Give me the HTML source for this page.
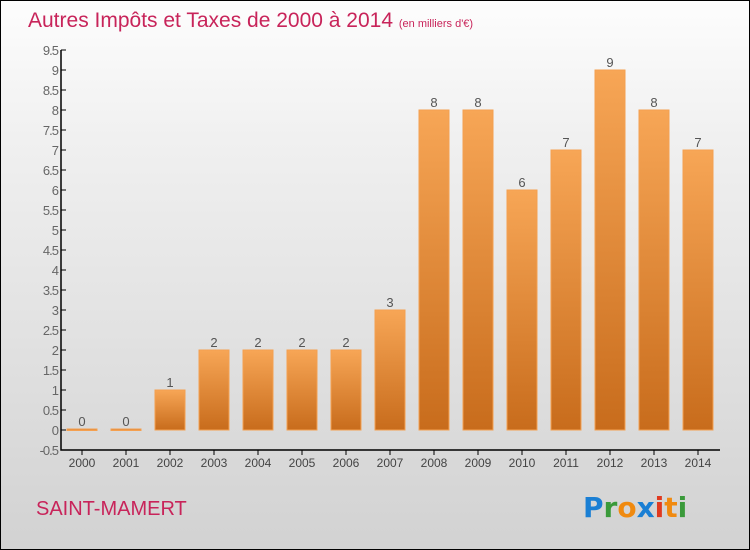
<!DOCTYPE html>
<html><head><meta charset="utf-8"><style>
body{margin:0}
#c{width:750px;height:550px;position:relative;box-sizing:border-box;border:1px solid #000;background:linear-gradient(#fdfdfd,#f0f0f0 25%,#d2d2d2);font-family:"Liberation Sans",sans-serif;overflow:hidden}
</style></head><body>
<div id="c">
<svg id="s" width="750" height="550" style="position:absolute;left:-1px;top:-1px">
<defs><linearGradient id="g" x1="0" y1="0" x2="0" y2="1"><stop offset="0" stop-color="#f7a656"/><stop offset="1" stop-color="#c86c1c"/></linearGradient></defs>
<text x="28" y="27" font-size="21" fill="#c8245a">Autres Impôts et Taxes de 2000 à 2014 <tspan font-size="11">(en milliers d'€)</tspan></text>
<text x="36" y="515" font-size="20" fill="#c8245a">SAINT-MAMERT</text>
<text x="583" y="517" font-size="28" font-weight="bold" font-family="'DejaVu Sans',sans-serif"><tspan fill="#1a7fd4">P</tspan><tspan fill="#3a9a3a">r</tspan><tspan fill="#f08a10">o</tspan><tspan fill="#1a7fd4">x</tspan><tspan fill="#e03a20">i</tspan><tspan fill="#f08a10">t</tspan><tspan fill="#3a9a3a">i</tspan></text>
</svg>
</div>
<script>
const years=["2000","2001","2002","2003","2004","2005","2006","2007","2008","2009","2010","2011","2012","2013","2014"];
const values=[0,0,1,2,2,2,2,3,8,8,6,7,9,8,7];
const labels=["0","0","1","2","2","2","2","3","8","8","6","7","9","8","7"];
const yTicks=["-0.5","0","0.5","1","1.5","2","2.5","3","3.5","4","4.5","5","5.5","6","6.5","7","7.5","8","8.5","9","9.5"];
const NS="http://www.w3.org/2000/svg",s=document.getElementById('s');
const y=v=>430-v*40, x=i=>82+i*44;
function el(t,a,txt){const e=document.createElementNS(NS,t);for(const k in a)e.setAttribute(k,a[k]);if(txt!=null)e.textContent=txt;s.appendChild(e);return e;}
const ax=el('path',{d:'M61 50V450H720',stroke:'#000',fill:'none','stroke-width':1.5});


yTicks.forEach(t=>{const v=parseFloat(t);
const tk=el('line',{x1:61,x2:66,y1:y(v),y2:y(v),stroke:'#000'});


const l=el('text',{x:58,y:y(v)+5,'font-size':13,fill:'#666','text-anchor':'end','letter-spacing':'-1'},t);

});
years.forEach((yr,i)=>{
const tk=el('line',{x1:x(i),x2:x(i),y1:450,y2:455,stroke:'#000'});


const l=el('text',{x:x(i),y:467,'font-size':12,fill:'#444','text-anchor':'middle'},yr);


const v=values[i],top=Math.min(y(v),429);
const b=el('rect',{x:x(i)-15,y:top,width:30,height:Math.max(430-top,1.5),fill:'url(#g)',stroke:'#f4a050'});


const vl=el('text',{x:x(i),y:top-3,'font-size':13,fill:'#555','text-anchor':'middle'},labels[i]);

});
</script>
</body></html>
